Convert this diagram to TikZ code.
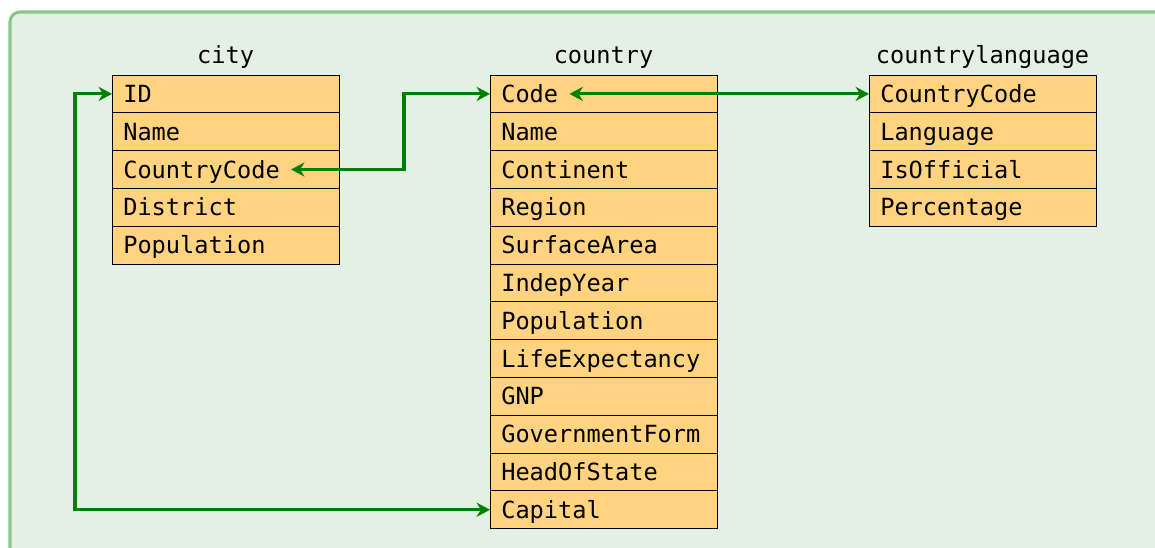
\documentclass[tikz,border=0pt]{standalone}
\usepackage{fontspec}
\setmonofont{DejaVu Sans Mono}
\usetikzlibrary{positioning, arrows.meta}
\definecolor{bggreen}{RGB}{229,240,228}
\definecolor{framegreen}{RGB}{138,197,138}
\definecolor{cellorange}{RGB}{255,211,128}
\definecolor{linkgreen}{RGB}{0,128,0}

\begin{document}
\begin{tikzpicture}[x=0.025cm, y=-0.025cm, font=\ttfamily\fontsize{16.8}{20}\selectfont,
	cell/.style={draw=black, line width=0.6pt, fill=cellorange, minimum width=5.675cm,
		minimum height=0.945cm, inner sep=0pt, outer sep=0pt, anchor=north west},
	celltext/.style={anchor=west, inner xsep=0.275cm, inner ysep=0pt, text height=12.5pt, text depth=0.25pt},
	tabletitle/.style={above=0.3cm of #1, anchor=base, inner sep=0pt},
	link/.style={linkgreen, line width=2.2pt,
		{Stealth[length=9.5pt, width=10pt, inset=3pt]}-{Stealth[length=9.5pt, width=10pt, inset=3pt]}}]
	\useasboundingbox (0,0) rectangle (1155,547);
	\clip (0,0) rectangle (1155,547);
	\draw[framegreen, line width=2.2pt, fill=bggreen, rounded corners=0.25cm] (10,12) rectangle (1185,590);
	% city
	\foreach \field [count=\i from 0] in {ID,Name,CountryCode,District,Population} {
		\node[cell] (city-\i) at (112, 75+37.8*\i) {};
		\node[celltext] (city-\i-t) at (city-\i.west) {\field};
	}
	\node[tabletitle=city-0.north] (city-title) {city};
	% country
	\foreach \field [count=\i from 0] in {Code,Name,Continent,Region,SurfaceArea,IndepYear,Population,
		LifeExpectancy,GNP,GovernmentForm,HeadOfState,Capital} {
		\node[cell] (country-\i) at (490, 75+37.8*\i) {};
		\node[celltext] (country-\i-t) at (country-\i.west) {\field};
	}
	\node[tabletitle=country-0.north] (country-title) {country};
	% countrylanguage
	\foreach \field [count=\i from 0] in {CountryCode,Language,IsOfficial,Percentage} {
		\node[cell] (lang-\i) at (869, 75+37.8*\i) {};
		\node[celltext] (lang-\i-t) at (lang-\i.west) {\field};
	}
	\node[tabletitle=lang-0.north] (lang-title) {countrylanguage};
	% links
	\draw[link] (city-2-t.east) -- ++(113,0) |- (country-0.west);
	\draw[link] (country-0-t.east) -- (lang-0.west);
	\draw[link] (country-11.west) -- ++(-415,0) |- (city-0.west);
\end{tikzpicture}
\end{document}
